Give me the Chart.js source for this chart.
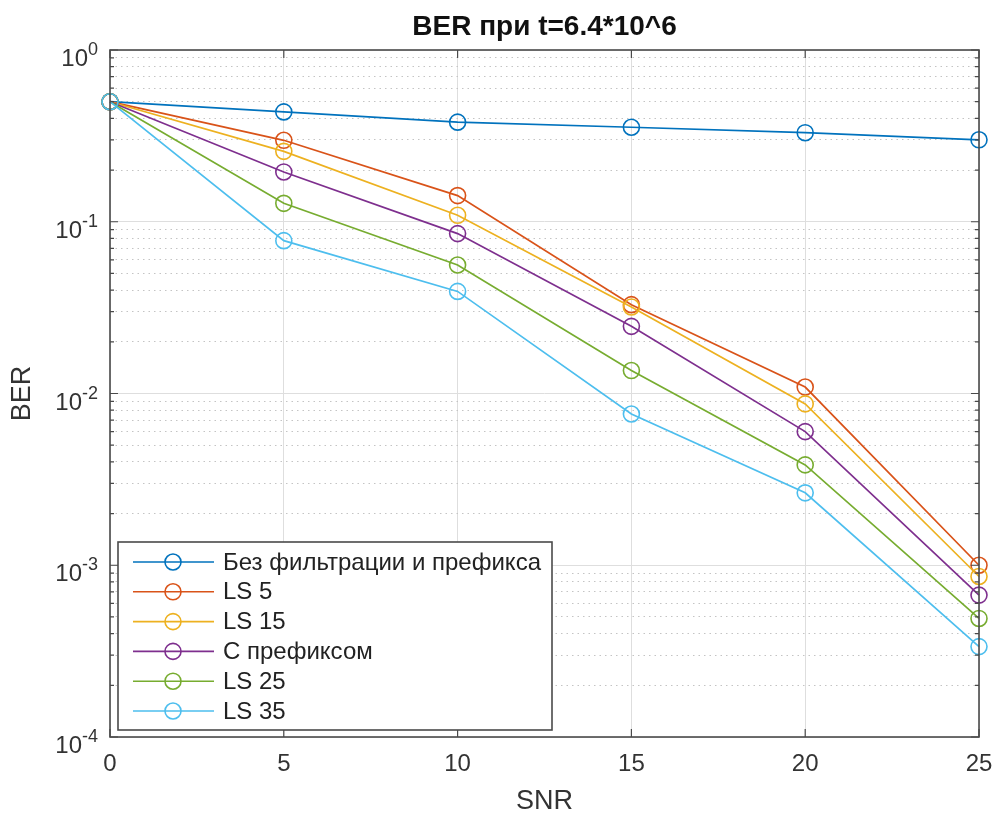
<!DOCTYPE html>
<html>
<head>
<meta charset="utf-8">
<script src="https://cdn.jsdelivr.net/npm/chart.js@4/dist/chart.umd.min.js"></script>
<style>
  html, body { margin: 0; padding: 0; background: #fff; }
</style>
</head>
<body>
<canvas id="ber-chart" width="998" height="814"></canvas>
<script>
// SNR points (x axis)
const snr = [0, 5, 10, 15, 20, 25];
const xTicks = [0, 5, 10, 15, 20, 25];
const yDecades = [-4, -3, -2, -1, 0];

// BER values
const berNoFilter = [0.5, 0.436, 0.38, 0.355, 0.33, 0.30];
const berLS5 = [0.5, 0.298, 0.142, 0.0329, 0.0109, 0.00100];
const berLS15 = [0.5, 0.257, 0.109, 0.0319, 0.0087, 0.00086];
const berPrefix = [0.5, 0.195, 0.0853, 0.0246, 0.0060, 0.00067];
const berLS25 = [0.5, 0.128, 0.056, 0.0136, 0.00384, 0.00049];
const berLS35 = [0.5, 0.0776, 0.0393, 0.0076, 0.00264, 0.000336];

const seriesNames = ["Без фильтрации и префикса", "LS 5", "LS 15", "С префиксом", "LS 25", "LS 35"];
const seriesData = [berNoFilter, berLS5, berLS15, berPrefix, berLS25, berLS35];
const seriesColors = ["#0072BD", "#D95319", "#EDB120", "#7E2F8E", "#77AC30", "#4DBEEE"];

const titleText = "BER при t=6.4*10^6";
const xLabel = "SNR";
const yLabel = "BER";

const FONT = "'Liberation Sans', Arial, sans-serif";
const AXIS_COLOR = "#4a4a4a";
const TEXT_COLOR = "#333";

function isDecade(v) {
  const l = Math.log10(v);
  return Math.abs(l - Math.round(l)) < 1e-9;
}

// grid positions for the log axis: 1..9 in every decade
const yGridValues = [];
yDecades.forEach((d, i) => {
  if (i === yDecades.length - 1) { yGridValues.push(Math.pow(10, d)); return; }
  for (let m = 1; m <= 9; m++) yGridValues.push(m * Math.pow(10, d));
});

const datasets = seriesNames.map((name, i) => ({
  label: name,
  data: snr.map((x, j) => ({ x: x, y: seriesData[i][j] })),
  borderColor: seriesColors[i],
  backgroundColor: "rgba(0,0,0,0)",
  borderWidth: 1.7,
  pointStyle: "circle",
  pointRadius: 8,
  pointBorderWidth: 1.6,
  pointBorderColor: seriesColors[i],
  pointBackgroundColor: "rgba(0,0,0,0)",
  tension: 0,
  clip: false,
  order: seriesNames.length - i,
}));

const matlabFrame = {
  id: "matlabFrame",
  afterDraw(chart) {
    const ctx = chart.ctx;
    const a = chart.chartArea;
    const xs = chart.scales.x;
    const ys = chart.scales.y;
    ctx.save();

    // inward ticks
    ctx.strokeStyle = AXIS_COLOR;
    ctx.lineWidth = 1.2;
    ctx.beginPath();
    xTicks.forEach((t) => {
      const px = xs.getPixelForValue(t);
      ctx.moveTo(px, a.bottom); ctx.lineTo(px, a.bottom - 8);
      ctx.moveTo(px, a.top); ctx.lineTo(px, a.top + 8);
    });
    yGridValues.forEach((v) => {
      const py = ys.getPixelForValue(v);
      const len = isDecade(v) ? 8 : 4;
      ctx.moveTo(a.left, py); ctx.lineTo(a.left + len, py);
      ctx.moveTo(a.right, py); ctx.lineTo(a.right - len, py);
    });
    ctx.stroke();

    // y tick labels 10^n
    ctx.fillStyle = TEXT_COLOR;
    ctx.textBaseline = "alphabetic";
    yDecades.forEach((d) => {
      const py = ys.getPixelForValue(Math.pow(10, d));
      const expText = String(d);
      ctx.font = "18px " + FONT;
      ctx.textAlign = "right";
      const expRight = a.left - 12;
      const expW = ctx.measureText(expText).width;
      ctx.fillText(expText, expRight, py + 5);
      ctx.font = "24px " + FONT;
      ctx.fillText("10", expRight - expW, py + 16);
    });

    // legend
    const lx = 118, ly = 542, lw = 434, lh = 188;
    ctx.fillStyle = "#fff";
    ctx.fillRect(lx, ly, lw, lh);
    ctx.strokeStyle = AXIS_COLOR;
    ctx.lineWidth = 1.6;
    ctx.strokeRect(lx, ly, lw, lh);
    ctx.font = "24px " + FONT;
    ctx.textAlign = "left";
    ctx.textBaseline = "middle";
    seriesNames.forEach((name, i) => {
      const cy = ly + 20 + i * 29.8;
      ctx.strokeStyle = seriesColors[i];
      ctx.lineWidth = 1.6;
      ctx.beginPath();
      ctx.moveTo(lx + 15, cy); ctx.lineTo(lx + 96, cy);
      ctx.stroke();
      ctx.beginPath();
      ctx.arc(lx + 55, cy, 8, 0, Math.PI * 2);
      ctx.stroke();
      ctx.fillStyle = "#222";
      ctx.fillText(name, lx + 105, cy + 1);
    });

    // box
    ctx.strokeStyle = AXIS_COLOR;
    ctx.lineWidth = 1.6;
    ctx.strokeRect(a.left, a.top, a.right - a.left, a.bottom - a.top);

    // title and axis labels
    const cx = (a.left + a.right) / 2;
    ctx.fillStyle = "#111";
    ctx.textAlign = "center";
    ctx.textBaseline = "alphabetic";
    ctx.font = "bold 28px " + FONT;
    ctx.fillText(titleText, cx, 35);
    ctx.fillStyle = TEXT_COLOR;
    ctx.font = "27px " + FONT;
    ctx.fillText(xLabel, cx, 809);
    ctx.save();
    ctx.translate(23, (a.top + a.bottom) / 2);
    ctx.rotate(-Math.PI / 2);
    ctx.textBaseline = "middle";
    ctx.fillText(yLabel, 0, 0);
    ctx.restore();

    ctx.restore();
  },
};

const config = {
  type: "line",
  data: { datasets: datasets },
  options: {
    responsive: false,
    animation: false,
    devicePixelRatio: 1,
    layout: { padding: { top: 50, right: 19, left: 0, bottom: 0 } },
    plugins: {
      legend: { display: false },
      tooltip: { enabled: false },
      title: { display: false },
    },
    scales: {
      x: {
        type: "linear",
        min: 0,
        max: 25,
        afterFit: (s) => { s.height = 77; s.paddingLeft = 0; s.paddingRight = 0; },
        afterBuildTicks: (s) => { s.ticks = xTicks.map((v) => ({ value: v })); },
        ticks: {
          color: TEXT_COLOR,
          font: { size: 24, family: FONT },
          padding: 13,
          autoSkip: false,
          maxRotation: 0,
        },
        grid: { color: "#dedede", lineWidth: 1, drawTicks: false },
        border: { display: false },
      },
      y: {
        type: "logarithmic",
        min: 1e-4,
        max: 1,
        afterFit: (s) => { s.width = 110; s.paddingTop = 0; s.paddingBottom = 0; },
        afterBuildTicks: (s) => {
          s.ticks = yGridValues.map((v) => ({ value: v, major: isDecade(v) }));
        },
        ticks: { display: false, autoSkip: false },
        grid: {
          drawTicks: false,
          lineWidth: 1,
          color: (c) => (c.tick && isDecade(c.tick.value) ? "#dedede" : "#c4c4c4"),
        },
        border: {
          display: false,
          dash: (c) => (c.tick && isDecade(c.tick.value) ? [] : [1.5, 4]),
        },
      },
    },
  },
  plugins: [matlabFrame],
};

const ctx = document.getElementById("ber-chart").getContext("2d");
window.berChart = new Chart(ctx, config);
</script>
</body>
</html>
